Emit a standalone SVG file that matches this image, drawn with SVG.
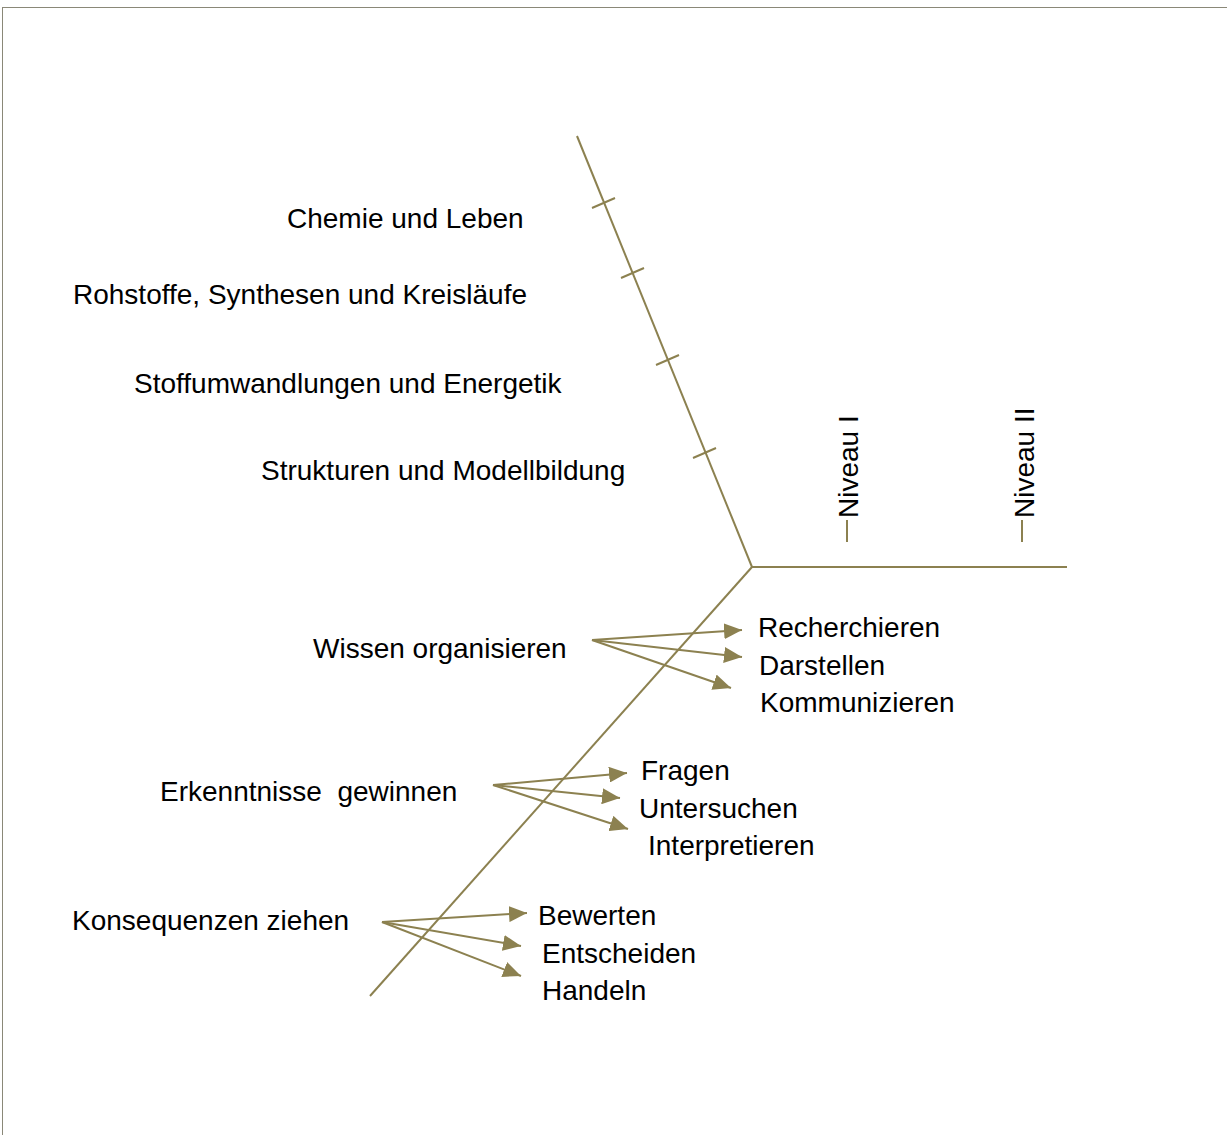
<svg xmlns="http://www.w3.org/2000/svg" width="1227" height="1135" viewBox="0 0 1227 1135">
<style>
text{font-family:"Liberation Sans",Arial,sans-serif;font-size:28px;fill:#000;white-space:pre}
.ln{stroke:#8C8150;stroke-width:2;fill:none}
.ar{stroke:#8C8150;stroke-width:2;fill:none;marker-end:url(#ah)}
</style>
<defs>
<marker id="ah" markerUnits="userSpaceOnUse" viewBox="0 0 18 16" refX="18" refY="8" markerWidth="18" markerHeight="16" orient="auto">
<path d="M0,0 L18,8 L0,16 Z" fill="#8C8150"/>
</marker>
</defs>
<rect x="2.5" y="7.5" width="1240" height="1140" fill="#fff" stroke="#8a8878" stroke-width="1"/>
<g id="connectors">
<line class="ln" x1="577" y1="136" x2="752" y2="567"/>
<line class="ln" x1="752" y1="567" x2="1067" y2="567"/>
<line class="ln" x1="752" y1="567" x2="370" y2="996"/>
<line class="ln" x1="592" y1="208" x2="615" y2="198"/>
<line class="ln" x1="621" y1="278" x2="644" y2="268"/>
<line class="ln" x1="656" y1="365" x2="679" y2="355"/>
<line class="ln" x1="693" y1="458" x2="716" y2="448"/>
<line class="ln" x1="847" y1="520" x2="847" y2="542"/>
<line class="ln" x1="1022" y1="520" x2="1022" y2="542"/>
<line class="ar" x1="592" y1="640" x2="742" y2="630"/>
<line class="ar" x1="592" y1="640" x2="742" y2="657"/>
<line class="ar" x1="592" y1="640" x2="731" y2="688"/>
<line class="ar" x1="493" y1="785" x2="627" y2="773"/>
<line class="ar" x1="493" y1="785" x2="620" y2="798"/>
<line class="ar" x1="493" y1="785" x2="628" y2="829"/>
<line class="ar" x1="382" y1="922" x2="527" y2="913"/>
<line class="ar" x1="382" y1="922" x2="521" y2="946"/>
<line class="ar" x1="382" y1="922" x2="521" y2="976"/>
</g>
<g id="n-chemie"><text x="287" y="228">Chemie und Leben</text></g>
<g id="n-rohstoffe"><text x="73" y="304">Rohstoffe, Synthesen und Kreisläufe</text></g>
<g id="n-stoff"><text x="134" y="393">Stoffumwandlungen und Energetik</text></g>
<g id="n-struktur"><text x="261" y="480">Strukturen und Modellbildung</text></g>
<g id="n-niveau1"><text transform="translate(858,518) rotate(-90)">Niveau I</text></g>
<g id="n-niveau2"><text transform="translate(1034,518) rotate(-90)">Niveau II</text></g>
<g id="n-wissen"><text x="313" y="658">Wissen organisieren</text></g>
<g id="n-recherchieren"><text x="758" y="637">Recherchieren</text></g>
<g id="n-darstellen"><text x="759" y="675">Darstellen</text></g>
<g id="n-kommunizieren"><text x="760" y="712">Kommunizieren</text></g>
<g id="n-erkenntnisse"><text x="160" y="801">Erkenntnisse  gewinnen</text></g>
<g id="n-fragen"><text x="641" y="780">Fragen</text></g>
<g id="n-untersuchen"><text x="639" y="818">Untersuchen</text></g>
<g id="n-interpretieren"><text x="648" y="855">Interpretieren</text></g>
<g id="n-konsequenzen"><text x="72" y="930">Konsequenzen ziehen</text></g>
<g id="n-bewerten"><text x="538" y="925">Bewerten</text></g>
<g id="n-entscheiden"><text x="542" y="963">Entscheiden</text></g>
<g id="n-handeln"><text x="542" y="1000">Handeln</text></g>
</svg>
